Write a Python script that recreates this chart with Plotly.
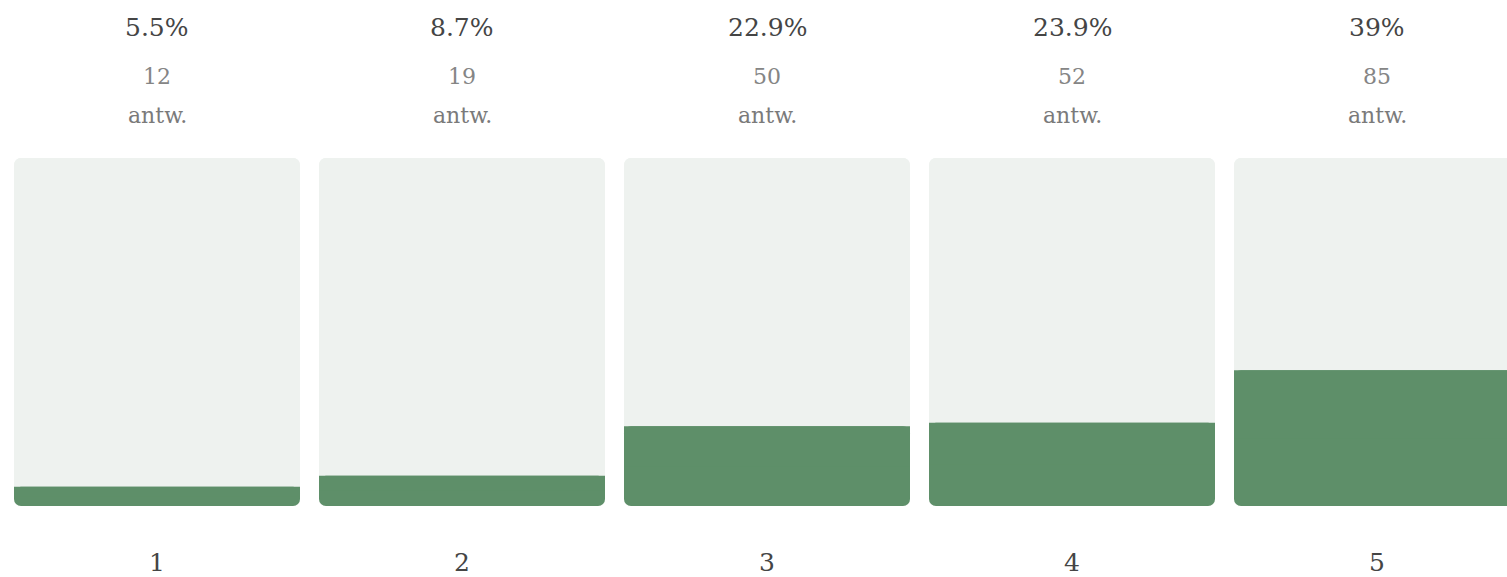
import plotly.graph_objects as go

categories = [1, 2, 3, 4, 5]
percent_values = [5.5, 8.7, 22.9, 23.9, 39.0]
percent_labels = ["5.5%", "8.7%", "22.9%", "23.9%", "39%"]
answer_counts = [12, 19, 50, 52, 85]
category_labels = ["1", "2", "3", "4", "5"]
full_scale = [100, 100, 100, 100, 100]

BG = "#EEF2EF"
GREEN = "#5E8F69"
FONT = "DejaVu Serif"
PX = 305.0          # pixels per category step
W = 286.0 / PX      # bar width in data units

fig = go.Figure()
# background track: rounded top
fig.add_trace(go.Bar(x=categories, y=full_scale, base=[0]*5, width=W,
                     marker=dict(color=BG, cornerradius=7, line=dict(width=0)),
                     hoverinfo="skip", showlegend=False))
# background track: rounded bottom
fig.add_trace(go.Bar(x=categories, y=[-v for v in full_scale], base=full_scale, width=W,
                     marker=dict(color=BG, cornerradius=7, line=dict(width=0)),
                     hoverinfo="skip", showlegend=False))
# green fill: drawn downward so the rounded end is at the bottom
fig.add_trace(go.Bar(x=categories, y=[-v for v in percent_values], base=percent_values, width=W,
                     marker=dict(color=GREEN, cornerradius=7, line=dict(width=0)),
                     hovertemplate="%{x}: %{base}%<extra></extra>", showlegend=False))
# square top edge of the green fill (upper half, no rounding)
fig.add_trace(go.Bar(x=categories, y=[-v / 2 for v in percent_values], base=percent_values, width=W,
                     marker=dict(color=GREEN, line=dict(width=0)),
                     hoverinfo="skip", showlegend=False))

annotations = []
for c, pl, n, cl in zip(categories, percent_labels, answer_counts, category_labels):
    annotations.append(dict(x=c, y=1, xref="x", yref="paper", text=pl, showarrow=False,
                            yanchor="middle", yshift=131,
                            font=dict(family=FONT, size=25, color="#454545")))
    annotations.append(dict(x=c, y=1, xref="x", yref="paper", text=str(n), showarrow=False,
                            yanchor="middle", yshift=82,
                            font=dict(family=FONT, size=22, color="#858585")))
    annotations.append(dict(x=c, y=1, xref="x", yref="paper", text="antw.", showarrow=False,
                            yanchor="middle", yshift=43,
                            font=dict(family=FONT, size=22, color="#7a7a7a")))
    annotations.append(dict(x=c, y=0, xref="x", yref="paper", text=cl, showarrow=False,
                            yanchor="middle", yshift=-56,
                            font=dict(family=FONT, size=25, color="#454545")))

fig.update_layout(
    width=1507, height=577,
    margin=dict(l=0, r=0, t=158, b=71),
    paper_bgcolor="white", plot_bgcolor="white",
    barmode="overlay",
    xaxis=dict(range=[1 - 157 / PX, 1 + 1350 / PX], showgrid=False, zeroline=False,
               showticklabels=False, fixedrange=True),
    yaxis=dict(range=[0, 100], showgrid=False, zeroline=False, showticklabels=False,
               fixedrange=True),
    annotations=annotations,
)

fig.write_html("out.html", config={"displayModeBar": False},
               post_script="document.body.style.margin='0';document.body.style.overflow='hidden';")
